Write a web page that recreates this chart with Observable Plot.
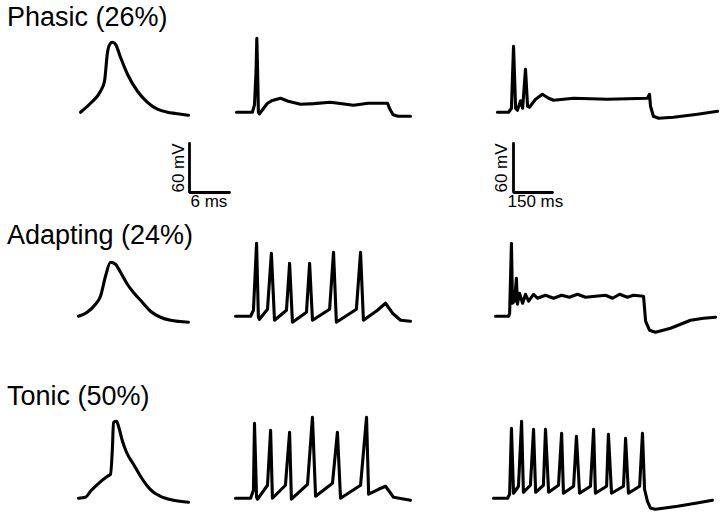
<!DOCTYPE html>
<html><head><meta charset="utf-8">
<script src="https://cdn.jsdelivr.net/npm/d3@7"></script>
<script src="https://cdn.jsdelivr.net/npm/@observablehq/plot@0.6"></script>
<style>
html,body{margin:0;padding:0;background:#fff;}
#chart{position:relative;width:720px;height:512px;overflow:hidden;font-family:"Liberation Sans",Arial,sans-serif;}
.lbl{position:absolute;left:7px;font-size:27px;line-height:27px;white-space:nowrap;color:#000;}
.panel{position:absolute;}
</style></head><body><div id="chart"></div>
<script>
// Row labels (firing types)
const rowLabels = ["Phasic (26%)", "Adapting (24%)", "Tonic (50%)"];

// Traces: [time (ms), membrane potential (mV)]
// Column 1: single action potential (ms scale)
const phasic_ap = [[0.3,-70],[1.8,-59],[3.3,-44.3],[3.9,-32],[4.35,3.5],[4.8,14.5],[5.1,15.7],[5.55,13.3],[6.3,-2.7],[7.35,-23.5],[8.85,-44.3],[10.35,-57.8],[11.85,-66.3],[13.35,-70],[14.6,-71.5],[16.5,-73.7]];
const adapting_ap = [[0,-70],[1.3,-65.1],[2.55,-55.3],[3.3,-45.5],[4.05,-21],[4.8,-3.9],[5.55,-6.3],[6.3,-16.1],[7.35,-31.1],[8.25,-40.9],[9.6,-53.1],[10.8,-63.9],[12.3,-71.2],[13.8,-74.9],[16.5,-77.3]];
const tonic_ap = [[0,-70],[1.05,-68.8],[1.8,-61.4],[2.85,-52.9],[4.35,-43.1],[4.8,-40.6],[5.1,-6.3],[5.25,23.1],[5.7,24.3],[6,18.2],[6.6,-0.2],[7.2,-13.7],[8.25,-28.4],[9.3,-43.1],[10.35,-55.3],[11.25,-62.7],[12.3,-67.6],[14.25,-72.4],[16.5,-74.9]];

// Column 2: weaker current step (ms)
const phasic_step1 = [[4,-70],[65,-70],[73,-61],[79,-20],[82,20.6],[85,-20],[88,-70],[92,-72],[106,-66],[123,-59],[142,-55.5],[173,-52.9],[203,-56.5],[250,-60.2],[300,-59.5],[365,-57.8],[410,-59.5],[454,-61.4],[510,-59],[585,-59],[592,-65],[606,-73],[625,-74.9],[673,-74.9]];
const adapting_step1 = [[0,-70],[58,-70],[69,-62.7],[81,19.4],[88,-71.2],[92,-73.7],[123,-61.4],[138,7.1],[150,-74.9],[196,-62.7],[208,-5.1],[219,-77.3],[273,-65.1],[285,-5.1],[296,-74.9],[362,-61.4],[377,8.4],[388,-77.3],[465,-61.4],[481,8.4],[492,-74.9],[546,-62.7],[577,-54.1],[604,-66.3],[635,-74.9],[673,-76.1]];
const tonic_step1 = [[0,-70],[58,-70],[69,-60.2],[73,21.8],[81,-68.8],[85,-71.2],[123,-54.1],[135,13.3],[142,-70],[192,-54.1],[208,10.8],[215,-71.2],[277,-52.9],[296,29.2],[308,-67.6],[373,-51.6],[392,10.8],[404,-70],[481,-54.1],[504,29.2],[512,-65.1],[550,-59],[577,-55.3],[608,-68.8],[673,-72.4]];

// Column 3: stronger current step (ms)
const phasic_step2 = [[15,-70],[58,-70],[69,-65.1],[77,10.8],[85,-65.1],[92,-67.6],[104,-56],[112,-65.1],[123,-17.3],[131,-62.7],[138,-63.9],[162,-54.1],[188,-48],[212,-52.9],[231,-55.3],[308,-52.9],[438,-54.1],[592,-52.9],[600,-48],[604,-62.7],[615,-74.9],[635,-77.3],[692,-76.1],[785,-72.4],[862,-68.8]];
const adapting_step2 = [[8,-70],[58,-70],[62,-66.3],[69,19.4],[73,-54.1],[81,-51.6],[88,-23.5],[92,-55.3],[100,-41.8],[112,-54.1],[123,-43.1],[135,-51.6],[154,-43.1],[169,-48],[200,-44.3],[231,-48],[262,-44.3],[292,-46.7],[323,-43.1],[354,-46.7],[392,-45.5],[431,-44.3],[458,-48],[485,-43.1],[515,-46.7],[538,-44.3],[577,-45.5],[585,-76.1],[600,-87.1],[623,-89.6],[681,-84.7],[758,-74.9],[808,-72.4],[854,-71.2]];
const tonic_step2 = [[0,-70],[54,-70],[62,-65.1],[69,15.7],[77,-63.9],[96,-55.3],[108,24.3],[115,-62.7],[142,-54.1],[154,14.5],[162,-62.7],[192,-54.1],[200,14.5],[212,-62.7],[250,-54.1],[262,9.6],[269,-63.9],[308,-55.3],[319,5.9],[331,-63.9],[373,-55.3],[385,14.5],[392,-63.9],[435,-55.3],[442,8.4],[454,-63.9],[500,-55.3],[508,3.5],[519,-63.9],[562,-55.3],[573,9.6],[581,-59],[592,-73.7],[604,-82.2],[623,-83.5],[708,-79.8],[777,-76.1],[842,-72.4]];

// Scale bars
const scaleBarShort = {ms: 6, mV: 60, timeLabel: "6 ms", vLabel: "60 mV"};
const scaleBarLong = {ms: 150, mV: 60, timeLabel: "150 ms", vLabel: "60 mV"};

// ---- layout ----
const traces = [
  [phasic_ap, phasic_step1, phasic_step2],
  [adapting_ap, adapting_step1, adapting_step2],
  [tonic_ap, tonic_step1, tonic_step2]
];
const colDomains = [[0, 17], [0, 900], [0, 900]];
const vDomain = [-95, 35];
const pxPerMs = [40 / 6, 39 / 150, 39 / 150];
const pxPerMv = 49 / 60;
const colLeft = [78, 235, 493];
const rowTop = [26.25, 230.25, 412.25];
const labelTop = [4, 222, 383];

const chart = document.getElementById("chart");

rowLabels.forEach((t, i) => {
  const d = document.createElement("div");
  d.className = "lbl";
  d.style.top = labelTop[i] + "px";
  d.textContent = t;
  chart.appendChild(d);
});

const ph = (vDomain[1] - vDomain[0]) * pxPerMv;
traces.forEach((row, r) => {
  row.forEach((data, c) => {
    const dom = colDomains[c];
    const w = (dom[1] - dom[0]) * pxPerMs[c];
    const p = Plot.plot({
      width: w, height: ph, margin: 0,
      x: {domain: dom, axis: null},
      y: {domain: vDomain, axis: null},
      style: {overflow: "visible", background: "transparent"},
      marks: [
        Plot.line(data, {x: d => d[0], y: d => d[1], stroke: "black", strokeWidth: 3.1,
          strokeLinejoin: "round", strokeLinecap: "round",
          curve: c === 0 ? "monotone-x" : "linear"})
      ]
    });
    p.classList.add("panel");
    p.style.left = colLeft[c] + "px";
    p.style.top = rowTop[r] + "px";
    chart.appendChild(p);
  });
});

function scaleBar(sb, col, innerLeft, innerTop, timeDx, vDx) {
  const mL = 35, mR = 30, mT = 5, mB = 25;
  const w = sb.ms * pxPerMs[col], h = sb.mV * pxPerMv;
  const p = Plot.plot({
    width: w + mL + mR, height: h + mT + mB,
    marginLeft: mL, marginRight: mR, marginTop: mT, marginBottom: mB,
    x: {domain: [0, sb.ms], axis: null},
    y: {domain: [0, sb.mV], axis: null},
    style: {overflow: "visible", background: "transparent"},
    marks: [
      Plot.line([[0, sb.mV], [0, 0], [sb.ms, 0]], {x: d => d[0], y: d => d[1], stroke: "black", strokeWidth: 2.8, strokeLinejoin: "miter"}),
      Plot.text([sb.timeLabel], {x: 0, y: 0, text: d => d, textAnchor: "start", dx: timeDx, dy: 9, fontSize: 17, fill: "black", fontFamily: "Liberation Sans, Arial, sans-serif"}),
      Plot.text([sb.vLabel], {x: 0, y: sb.mV / 2, text: d => d, rotate: -90, textAnchor: "middle", dx: vDx, fontSize: 17, fill: "black", fontFamily: "Liberation Sans, Arial, sans-serif"})
    ]
  });
  p.classList.add("panel");
  p.style.left = (innerLeft - mL) + "px";
  p.style.top = (innerTop - mT) + "px";
  chart.appendChild(p);
}
scaleBar(scaleBarShort, 0, 189, 143, 1, -11);
scaleBar(scaleBarLong, 2, 513, 143, -6, -12);
</script>
</body></html>
